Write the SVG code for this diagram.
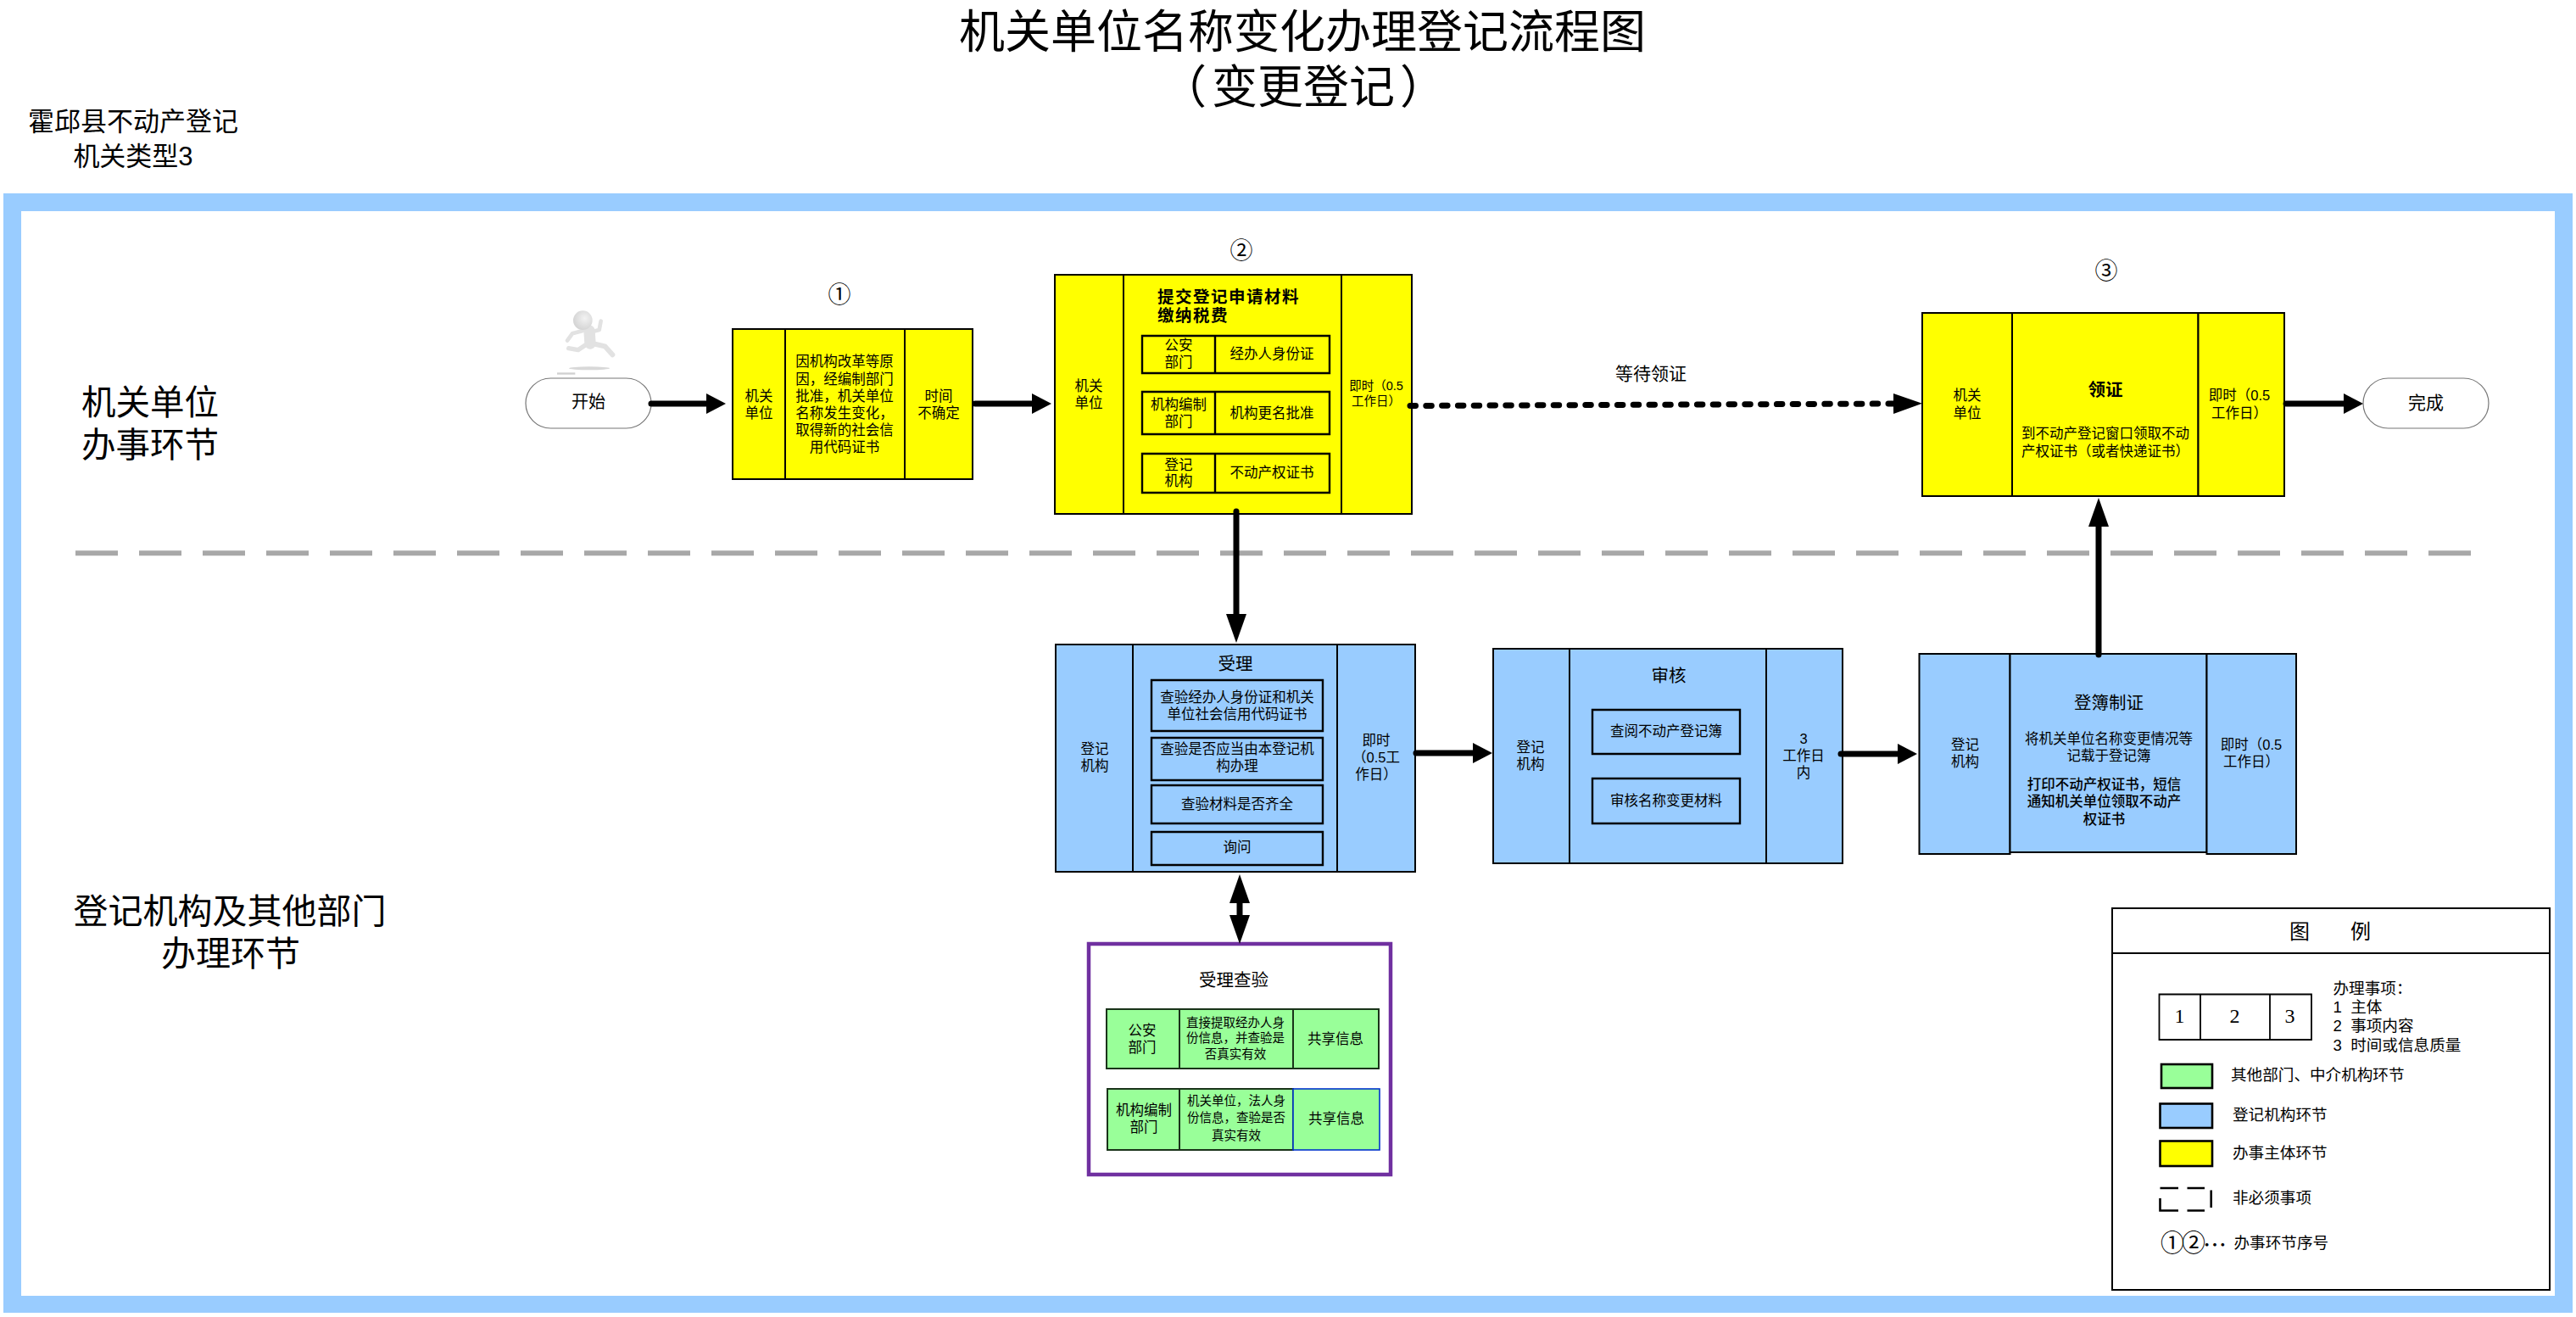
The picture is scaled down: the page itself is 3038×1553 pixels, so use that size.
<svg xmlns="http://www.w3.org/2000/svg" width="3038" height="1553" viewBox="0 0 3038 1553">
<style>
text{font-family:"Liberation Sans","Noto Sans CJK SC",sans-serif;text-anchor:middle;dominant-baseline:central;fill:#000}
.f14{font-size:14.5px}.f16{font-size:16.5px}.f20{font-size:20.5px}.bd{font-weight:700}
.st{text-anchor:start}
.y,.b,.g,.w{stroke:#000;stroke-width:2}
.y{fill:#ff0}.b{fill:#9cf}.g{fill:#9f9;stroke:#1a331a}.w{fill:#fff}
.sub{fill:none;stroke:#000;stroke-width:2.4}
.pill{fill:#fff;stroke:#777;stroke-width:1.2}
.conn{fill:none;stroke:#000;stroke-width:7;stroke-linecap:round}
.lg{font-size:18.6px}
.sw{stroke:#000;stroke-width:2.6}
.num{font-size:27px}
</style>
<defs>
<marker id="a" markerUnits="userSpaceOnUse" markerWidth="24" markerHeight="24" refX="2" refY="12" orient="auto"><path d="M0,0L23,12L0,24z"/></marker>
<marker id="l" markerUnits="userSpaceOnUse" markerWidth="34" markerHeight="24" refX="2" refY="12" orient="auto-start-reverse"><path d="M0,0L34,12L0,24z"/></marker>
<radialGradient id="rg" cx=".6" cy=".4" r=".7"><stop offset="0" stop-color="#f2f2f2"/><stop offset="1" stop-color="#d0d0d0"/></radialGradient>
</defs>
<rect width="3038" height="1553" fill="#fff"/>
<path id="frame" fill="#9cf" fill-rule="evenodd" d="M4,228H3034V1548H4ZM25,249V1528H3013V249Z"/>
<g id="title">
<text style="font-size:54px"><tspan x="1536" y="38">机关单位名称变化办理登记流程图</tspan><tspan x="1537" y="103">（<tspan dx="6">变更登记</tspan><tspan dx="6">）</tspan></tspan></text>
</g>
<g id="org-label">
<text style="font-size:31px"><tspan x="157" y="143">霍邱县不动产登记</tspan><tspan x="157" y="184">机关类型3</tspan></text>
</g>
<g id="lane-labels">
<text style="font-size:40.5px"><tspan x="177" y="474.500">机关单位</tspan><tspan x="177" y="524.500">办事环节</tspan></text>
<text style="font-size:41px"><tspan x="271" y="1075">登记机构及其他部门</tspan><tspan x="272" y="1124.500">办理环节</tspan></text>
</g>
<line id="lane-divider" x1="89" y1="652.3" x2="2914" y2="652.3" stroke="#a8a8a8" stroke-width="6" stroke-dasharray="50 25"/>
<g id="runner" transform="translate(600 340) scale(.3333)">
<ellipse cx="285" cy="283" rx="72" ry="6" fill="#d8d8d8"/>
<rect x="171" y="298" width="64" height="7" fill="#d0d0d0"/>
<g fill="none" stroke="#e2e2e2" stroke-linecap="round" stroke-linejoin="round">
<path d="M300,152L320,147L326,116" stroke-width="14"/>
<path d="M262,150L225,160L207,185" stroke-width="14"/>
<path d="M296,195L340,205L367,235" stroke-width="18"/>
<path d="M272,200L245,218L212,212" stroke-width="16"/>
<path d="M285,150L288,195" stroke-width="40"/>
</g>
<circle cx="262" cy="113" r="34" fill="url(#rg)"/>
</g>
<g id="node-start">
<rect class="pill" x="620" y="446" width="148" height="59" rx="29.5"/>
<text x="694" y="474" style="font-size:20px">开始</text>
</g>
<g id="node-1">
<rect class="y" x="864" y="388" width="62" height="177"/>
<rect class="y" x="926" y="388" width="141" height="177"/>
<rect class="y" x="1067" y="388" width="80" height="177"/>
<text class="f16" x="895" y="467">机关</text>
<text class="f16" x="895" y="487">单位</text>
<text class="f16" x="996" y="426">因机构改革等原</text>
<text class="f16" x="996" y="447">因，经编制部门</text>
<text class="f16" x="996" y="467">批准，机关单位</text>
<text class="f16" x="996" y="487">名称发生变化，</text>
<text class="f16" x="996" y="507">取得新的社会信</text>
<text class="f16" x="996" y="527">用代码证书</text>
<text class="f16" x="1107" y="467">时间</text>
<text class="f16" x="1107" y="487">不确定</text>
<text class="num" x="990" y="348">①</text>
</g>
<g id="node-2">
<rect class="y" x="1244" y="324" width="81" height="282"/>
<rect class="y" x="1325" y="324" width="257" height="282"/>
<rect class="y" x="1582" y="324" width="83" height="282"/>
<text class="f16" x="1284" y="455">机关</text>
<text class="f16" x="1284" y="475">单位</text>
<text class="bd" style="font-size:19.5px;letter-spacing:1.5px;text-anchor:start"><tspan x="1365" y="349.500">提交登记申请材料</tspan><tspan x="1365" y="371.500">缴纳税费</tspan></text>
<path class="sub" d="M1347,396H1568V440H1347ZM1433,396V440M1347,462H1568V512H1347ZM1433,462V512M1347,535H1568V581H1347ZM1433,535V581"/>
<text class="f16" x="1390" y="407">公安</text>
<text class="f16" x="1390" y="427">部门</text>
<text class="f16" x="1500" y="417">经办人身份证</text>
<text class="f16" x="1390" y="477">机构编制</text>
<text class="f16" x="1390" y="497">部门</text>
<text class="f16" x="1500" y="487">机构更名批准</text>
<text class="f16" x="1390" y="548">登记</text>
<text class="f16" x="1390" y="567">机构</text>
<text class="f16" x="1500" y="557">不动产权证书</text>
<text class="f14" x="1623" y="455">即时（0.5</text>
<text class="f14" x="1623" y="473">工作日）</text>
<text class="num" x="1464" y="296">②</text>
</g>
<g id="node-3">
<rect class="y" x="2267" y="369" width="106" height="216"/>
<rect class="y" x="2373" y="369" width="219.500" height="216"/>
<rect class="y" x="2592.500" y="369" width="101.500" height="216"/>
<text class="f16" x="2320" y="466">机关</text>
<text class="f16" x="2320" y="487">单位</text>
<text class="bd f20" x="2483" y="459">领证</text>
<text class="f16" x="2483" y="511">到不动产登记窗口领取不动</text>
<text class="f16" x="2483" y="532">产权证书（或者快递证书）</text>
<text class="f16" x="2641" y="466">即时（0.5</text>
<text class="f16" x="2641" y="487">工作日）</text>
<text class="num" x="2484" y="320">③</text>
</g>
<g id="node-end">
<rect class="pill" x="2787" y="446" width="148" height="59" rx="29.5"/>
<text x="2861" y="474" style="font-size:21px">完成</text>
</g>
<g id="node-accept">
<rect class="b" x="1245" y="760" width="91" height="268"/>
<rect class="b" x="1336" y="760" width="241" height="268"/>
<rect class="b" x="1577" y="760" width="92" height="268"/>
<text class="f16" x="1291" y="883">登记</text>
<text class="f16" x="1291" y="903">机构</text>
<text class="f20" x="1457" y="782">受理</text>
<path class="sub" d="M1358,802H1560V862H1358ZM1358,870H1560V920H1358ZM1358,926H1560V971H1358ZM1358,981H1560V1020H1358Z"/>
<text class="f16" x="1459" y="822">查验经办人身份证和机关</text>
<text class="f16" x="1459" y="842">单位社会信用代码证书</text>
<text class="f16" x="1459" y="883">查验是否应当由本登记机</text>
<text class="f16" x="1459" y="903">构办理</text>
<text class="f16" x="1459" y="948">查验材料是否齐全</text>
<text class="f16" x="1459" y="999">询问</text>
<text class="f16" x="1623" y="873">即时</text>
<text class="f16" x="1623" y="893">（0.5工</text>
<text class="f16" x="1623" y="913">作日）</text>
</g>
<g id="node-review">
<rect class="b" x="1761" y="765" width="90" height="253"/>
<rect class="b" x="1851" y="765" width="232" height="253"/>
<rect class="b" x="2083" y="765" width="90" height="253"/>
<text class="f16" x="1805" y="881">登记</text>
<text class="f16" x="1805" y="901">机构</text>
<text class="f20" x="1968" y="796">审核</text>
<path class="sub" d="M1878,837H2052V889H1878ZM1878,918H2052V971H1878Z"/>
<text class="f16" x="1965" y="862">查阅不动产登记簿</text>
<text class="f16" x="1965" y="944">审核名称变更材料</text>
<text class="f16" x="2127" y="871">3</text>
<text class="f16" x="2127" y="891">工作日</text>
<text class="f16" x="2127" y="911">内</text>
</g>
<g id="node-record">
<rect class="b" x="2263.500" y="771" width="107" height="236"/>
<rect class="b" x="2370.500" y="771" width="232" height="234"/>
<rect class="b" x="2602.500" y="771" width="105.500" height="236"/>
<text class="f16" x="2317.500" y="878">登记</text>
<text class="f16" x="2317.500" y="898">机构</text>
<text class="f20" x="2487" y="828">登簿制证</text>
<text class="f16" x="2487" y="871">将机关单位名称变更情况等</text>
<text class="f16" x="2487" y="891">记载于登记簿</text>
<text class="f16" x="2481.500" y="925" style="font-weight:500">打印不动产权证书，短信</text>
<text class="f16" x="2481.500" y="945" style="font-weight:500">通知机关单位领取不动产</text>
<text class="f16" x="2481.500" y="966" style="font-weight:500">权证书</text>
<text class="f16" x="2655" y="878">即时（0.5</text>
<text class="f16" x="2655" y="898">工作日）</text>
</g>
<g id="node-check">
<rect x="1284" y="1113" width="356" height="272" fill="#fff" stroke="#7030a0" stroke-width="4.5"/>
<text class="f20" x="1455" y="1155">受理查验</text>
<rect class="g" x="1305" y="1190" width="86" height="70"/>
<rect class="g" x="1391" y="1190" width="134" height="70"/>
<rect class="g" x="1525" y="1190" width="101" height="70"/>
<text class="f16" x="1347" y="1215">公安</text>
<text class="f16" x="1347" y="1235">部门</text>
<text class="f14" x="1457" y="1206">直接提取经办人身</text>
<text class="f14" x="1457" y="1224">份信息，并查验是</text>
<text class="f14" x="1457" y="1243">否真实有效</text>
<text class="f16" x="1575" y="1225">共享信息</text>
<rect class="g" x="1306" y="1284" width="85" height="72"/>
<rect class="g" x="1391" y="1284" width="134" height="72"/>
<rect x="1525" y="1284" width="102" height="72" fill="#9f9" stroke="#03c" stroke-width="1.6"/>
<text class="f16" x="1349" y="1309">机构编制</text>
<text class="f16" x="1349" y="1329">部门</text>
<text class="f14" x="1458" y="1298">机关单位，法人身</text>
<text class="f14" x="1458" y="1318">份信息，查验是否</text>
<text class="f14" x="1458" y="1339">真实有效</text>
<text class="f16" x="1576" y="1319">共享信息</text>
</g>
<g id="connectors">
<line class="conn" x1="768" y1="476" x2="835" y2="476" marker-end="url(#a)"/>
<line class="conn" x1="1150" y1="476" x2="1219" y2="476" marker-end="url(#a)"/>
<line class="conn" x1="1663" y1="478.500" x2="2235" y2="476" stroke-dasharray="6.5 12.3" marker-end="url(#l)"/>
<line class="conn" x1="2696" y1="476" x2="2766" y2="476" marker-end="url(#a)"/>
<line class="conn" x1="1458" y1="603" x2="1458" y2="726" marker-end="url(#l)"/>
<line class="conn" x1="1670" y1="888" x2="1739" y2="888" marker-end="url(#a)"/>
<line class="conn" x1="2171" y1="889" x2="2240" y2="889" marker-end="url(#a)"/>
<line class="conn" x1="2475" y1="772" x2="2475" y2="619" marker-end="url(#l)"/>
<line class="conn" x1="1462" y1="1063" x2="1462" y2="1081" style="stroke-linecap:butt" marker-start="url(#l)" marker-end="url(#l)"/>
</g>
<text id="label-wait" x="1947" y="440" style="font-size:21px">等待领证</text>
<g id="legend">
<rect x="2491" y="1071" width="516" height="450" fill="#fff" stroke="#000" stroke-width="2"/>
<line x1="2491" y1="1124" x2="3007" y2="1124" stroke="#000" stroke-width="2"/>
<text x="2748" y="1098" style="font-size:24px">图　　例</text>
<path d="M2546.500,1172.500H2726V1226H2546.500ZM2595,1172.500V1226M2677,1172.500V1226" fill="#fff" stroke="#000" stroke-width="1.8"/>
<g style="font-size:24px">
<text x="2570.500" y="1198" style="font-family:'Liberation Serif',serif">1</text>
<text x="2635.500" y="1198" style="font-family:'Liberation Serif',serif">2</text>
<text x="2700.500" y="1198" style="font-family:'Liberation Serif',serif">3</text>
</g>
<text class="lg st"><tspan x="2751.500" y="1165">办理事项：</tspan><tspan x="2751.500" y="1187" xml:space="preserve">1  主体</tspan><tspan x="2751.500" y="1209" xml:space="preserve">2  事项内容</tspan><tspan x="2751.500" y="1232" xml:space="preserve">3  时间或信息质量</tspan></text>
<rect class="sw" x="2549" y="1255" width="60" height="28" fill="#9f9"/>
<text class="lg st" x="2631" y="1267">其他部门、中介机构环节</text>
<rect class="sw" x="2547.500" y="1301.500" width="61.500" height="28.500" fill="#9cf"/>
<text class="lg st" x="2633" y="1314">登记机构环节</text>
<rect class="sw" x="2547.500" y="1345.500" width="61.500" height="29.500" fill="#ff0"/>
<text class="lg st" x="2633" y="1359">办事主体环节</text>
<path d="M2547.500,1401H2569M2579.500,1401H2600M2607.700,1403.500V1424M2547.500,1413V1427.500H2569M2579.500,1427.500H2600" fill="none" stroke="#000" stroke-width="2.6"/>
<text class="lg st" x="2633" y="1412.500">非必须事项</text>
<text class="st" x="2548" y="1466.500" style="font-size:28px;letter-spacing:-3px">①②<tspan style="font-family:'Noto Sans CJK SC',sans-serif">…</tspan></text>
<text class="lg st" x="2634.500" y="1465.500">办事环节序号</text>
</g>
</svg>
